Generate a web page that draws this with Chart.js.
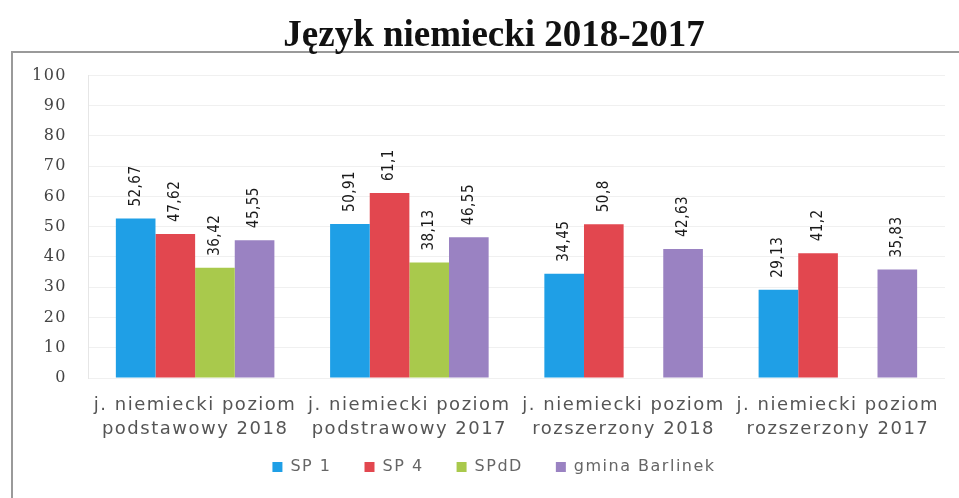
<!DOCTYPE html>
<html>
<head>
<meta charset="utf-8">
<script src="https://cdn.jsdelivr.net/npm/chart.js@4"></script>
<style>
  html, body { margin: 0; padding: 0; background: #fff; overflow: hidden; }
  #wrap { width: 959px; height: 498px; position: relative; overflow: hidden; }
</style>
</head>
<body>
<div id="wrap"><canvas id="wykres" width="990" height="498"></canvas></div>
<script>
// dane
const kategorie = [
    ['j. niemiecki poziom', 'podstawowy 2018'],
    ['j. niemiecki poziom', 'podstrawowy 2017'],
    ['j. niemiecki poziom', 'rozszerzony 2018'],
    ['j. niemiecki poziom', 'rozszerzony 2017']
];
const sp1 = [52.67, 50.91, 34.45, 29.13];
const sp4 = [47.62, 61.1, 50.8, 41.2];
const spdd = [36.42, 38.13, null, null];
const gmina = [45.55, 46.55, 42.63, 35.83];
const osY = [0, 10, 20, 30, 40, 50, 60, 70, 80, 90, 100];

const ODSTEP = '1.5px'; // tekst w oryginale jest rozstrzelony

// ramka wokół wykresu (jak w oryginale, wychodzi poza prawą i dolną krawędź)
const ramka = {
    id: 'ramka',
    beforeDraw(chart) {
        const ctx = chart.ctx;
        ctx.letterSpacing = ODSTEP;
        ctx.save();
        ctx.strokeStyle = '#9a9a9a';
        ctx.lineWidth = 2;
        ctx.strokeRect(12, 52, chart.width + 20, chart.height + 20);
        ctx.restore();
    }
};

// etykiety wartości obrócone pionowo nad słupkami
const etykiety = {
    id: 'etykiety',
    afterDatasetsDraw(chart) {
        const ctx = chart.ctx;
        ctx.save();
        ctx.letterSpacing = '0.5px';
        ctx.font = '15px "DejaVu Sans Condensed", "DejaVu Sans", sans-serif';
        ctx.fillStyle = '#1a1a1a';
        ctx.textAlign = 'left';
        ctx.textBaseline = 'middle';
        chart.data.datasets.forEach((ds, i) => {
            chart.getDatasetMeta(i).data.forEach((bar, j) => {
                const v = ds.data[j];
                if (v === null) return;
                ctx.save();
                ctx.translate(bar.x, bar.y - 12);
                ctx.rotate(-Math.PI / 2);
                ctx.fillText(String(v).replace('.', ','), 0, 0);
                ctx.restore();
            });
        });
        ctx.restore();
    }
};

// tytuł bez rozstrzelenia liter, legenda trochę wyżej
const poprawki = {
    id: 'poprawki',
    afterInit(chart) {
        const t = chart.titleBlock;
        const rysuj = t.draw.bind(t);
        t.draw = (area) => {
            const c = chart.ctx;
            const s = c.letterSpacing;
            c.letterSpacing = '0px';
            rysuj(area);
            c.letterSpacing = s;
        };
    },
    beforeLayout(chart) {
        chart.ctx.letterSpacing = ODSTEP;
    },
    afterLayout(chart) {
        chart.legend.top -= 14;
        chart.legend.bottom -= 14;
    }
};

let wykres = null;

document.addEventListener('DOMContentLoaded', () => {
    const ctx = document.getElementById('wykres').getContext('2d');
    wykres = new Chart(ctx, {
        type: 'bar',
        data: {
            labels: kategorie,
            datasets: [
                { label: 'SP 1', data: sp1, backgroundColor: '#1f9fe6' },
                { label: 'SP 4', data: sp4, backgroundColor: '#e2474f' },
                { label: 'SPdD', data: spdd, backgroundColor: '#a9c94c' },
                { label: 'gmina Barlinek', data: gmina, backgroundColor: '#9a82c2' }
            ]
        },
        options: {
            responsive: false,
            animation: false,
            layout: { padding: { left: 12, right: 14, top: 0, bottom: 0 } },
            datasets: { bar: { categoryPercentage: 0.74, barPercentage: 1.0 } },
            scales: {
                x: {
                    afterFit: (s) => { s.height = 62; },
                    grid: { display: false, drawTicks: false },
                    border: { display: false },
                    ticks: {
                        color: '#555',
                        font: { family: '"DejaVu Sans", sans-serif', size: 18, lineHeight: 1.3 },
                        maxRotation: 0,
                        autoSkip: false,
                        padding: 16
                    }
                },
                y: {
                    min: 0,
                    max: 100,
                    afterBuildTicks: (s) => { s.ticks = osY.map(v => ({ value: v })); },
                    afterFit: (s) => { s.width = 76; },
                    grid: { color: '#f0f0f0', drawTicks: false },
                    border: { color: '#e6e6e6' },
                    ticks: {
                        color: '#444',
                        padding: 21,
                        font: { family: '"DejaVu Serif", serif', size: 16 }
                    }
                },
                // pusta oś po prawej - tylko odstęp
                y2: {
                    position: 'right',
                    afterFit: (s) => { s.width = 31; },
                    grid: { display: false },
                    border: { display: false },
                    ticks: { display: false }
                }
            },
            plugins: {
                title: {
                    display: true,
                    text: 'Język niemiecki 2018-2017',
                    color: '#111',
                    font: { family: '"Liberation Serif", serif', size: 37, weight: 'bold' },
                    padding: { top: 14, bottom: 17 }
                },
                legend: {
                    position: 'bottom',
                    maxHeight: 58,
                    labels: {
                        color: '#666',
                        boxWidth: 10,
                        boxHeight: 10,
                        padding: 33,
                        font: { family: '"DejaVu Sans", sans-serif', size: 16 }
                    }
                },
                tooltip: { enabled: false }
            }
        },
        plugins: [ramka, etykiety, poprawki]
    });
});
</script>
</body>
</html>
